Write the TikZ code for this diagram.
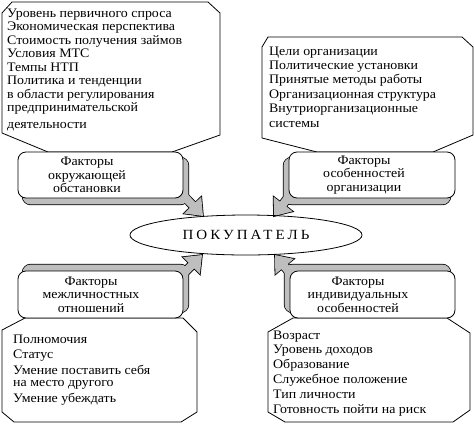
\documentclass[tikz,border=0pt]{standalone}
\usepackage{fontspec}
\setmainfont[FakeStretch=1.07]{Liberation Serif}
\usetikzlibrary{calc,shapes.geometric}
\definecolor{shade}{RGB}{190,190,190}
\pgfdeclarelayer{back}
\pgfdeclarelayer{mid}
\pgfsetlayers{back,mid,main}
\newcommand\drawarrow[4]{\path[#1] ($(#2)!4pt!90:(#4)$) -- ($(#3)!4pt!90:(#4)$) -- ($(#3)!12pt!90:(#4)$) -- (#4) -- ($(#3)!12pt!-90:(#4)$) -- ($(#3)!4pt!-90:(#4)$) -- ($(#2)!4pt!-90:(#4)$) -- cycle;}
\tikzset{
  callout/.style={draw=black, fill=white, line width=0.8pt, line join=miter},
  calltext/.style={anchor=north west, inner sep=0pt, align=left},
  factorbox/.style={draw=black, fill=white, line width=0.8pt, rounded corners=8pt, inner sep=0pt},
  factortext/.style={align=center, inner sep=0pt, font=\fontsize{13}{13.5}\selectfont},
  shadowline/.style={draw=black, line width=1.6pt, rounded corners=8pt},
  shadowfill/.style={fill=shade, rounded corners=8pt},
}
\begin{document}
\begin{tikzpicture}[x=1pt,y=-1pt]
\useasboundingbox (0,0) rectangle (474,424);
% central ellipse
\node[draw, ellipse, line width=0.8pt, minimum width=232pt, minimum height=40pt, inner sep=0pt,
  font=\fontsize{14}{16}\selectfont\addfontfeature{LetterSpace=22}] (buyer) at (246,235) {ПОКУПАТЕЛЬ};
% factor boxes
\node[factorbox, minimum width=165pt, minimum height=46pt] (f1) at (100.5,175) {};
\node[factorbox, minimum width=166pt, minimum height=46pt] (f2) at (372,175) {};
\node[factorbox, minimum width=165pt, minimum height=47pt] (f3) at (100.5,294.5) {};
\node[factorbox, minimum width=165pt, minimum height=47pt] (f4) at (372.5,294.5) {};
\node[factortext] (f1t) at (87,175) {Факторы\\окружающей\\обстановки};
\node[factortext] (f2t) at (364,175) {Факторы\\особенностей\\организации};
\node[factortext] (f3t) at (91,294.5) {Факторы\\межличностных\\отношений};
\node[factortext] (f4t) at (358,294.5) {Факторы\\индивидуальных\\особенностей};
% arrow geometry
\coordinate (s1) at ($(f1.south east)+(-5,-8)$); \coordinate (t1) at (203,216);
\coordinate (s2) at ($(f2.south west)+(5,-8)$);  \coordinate (t2) at (274,216);
\coordinate (s3) at ($(f3.north east)+(-5,8)$);  \coordinate (t3) at (202,255);
\coordinate (s4) at ($(f4.north west)+(5,8)$);   \coordinate (t4) at (275,255);
\coordinate (b1) at ($(t1)!15pt!(s1)$);
\coordinate (b2) at ($(t2)!15pt!(s2)$);
\coordinate (b3) at ($(t3)!15pt!(s3)$);
\coordinate (b4) at ($(t4)!15pt!(s4)$);
\begin{pgfonlayer}{mid}
  \drawarrow{draw=black, line width=1.6pt}{s1}{b1}{t1}
  \drawarrow{draw=black, line width=1.6pt}{s2}{b2}{t2}
  \drawarrow{draw=black, line width=1.6pt}{s3}{b3}{t3}
  \drawarrow{draw=black, line width=1.6pt}{s4}{b4}{t4}
  \path[shadowline] ([shift={(5,6)}]f1.north west) rectangle ([shift={(5,6)}]f1.south east);
  \path[shadowline] ([shift={(-5,6)}]f2.north west) rectangle ([shift={(-5,6)}]f2.south east);
  \path[shadowline] ([shift={(5,-6)}]f3.north west) rectangle ([shift={(5,-6)}]f3.south east);
  \path[shadowline] ([shift={(-5,-6)}]f4.north west) rectangle ([shift={(-5,-6)}]f4.south east);
  \drawarrow{fill=shade}{s1}{b1}{t1}
  \drawarrow{fill=shade}{s2}{b2}{t2}
  \drawarrow{fill=shade}{s3}{b3}{t3}
  \drawarrow{fill=shade}{s4}{b4}{t4}
  \path[shadowfill] ([shift={(5,6)}]f1.north west) rectangle ([shift={(5,6)}]f1.south east);
  \path[shadowfill] ([shift={(-5,6)}]f2.north west) rectangle ([shift={(-5,6)}]f2.south east);
  \path[shadowfill] ([shift={(5,-6)}]f3.north west) rectangle ([shift={(5,-6)}]f3.south east);
  \path[shadowfill] ([shift={(-5,-6)}]f4.north west) rectangle ([shift={(-5,-6)}]f4.south east);
\end{pgfonlayer}
% callouts
\begin{pgfonlayer}{back}
  \path[callout] (2,13) -- (12,2) -- (208,2) -- (220,13) -- (220,135) -- (172,152) -- (48,152) -- (2,133) -- cycle;
  \path[callout] (262,47) -- (268,37) -- (462,37) -- (473,47) -- (473,135) -- (433,152) -- (317,152) -- (262,138) -- cycle;
  \path[callout] (25,318) -- (183,318) -- (197,332) -- (197,412) -- (181,422) -- (14,422) -- (2,412) -- (2,330) -- cycle;
  \path[callout] (293,318) -- (447,318) -- (470,333) -- (470,410) -- (453,422) -- (285,422) -- (268,412) -- (268,332) -- cycle;
\end{pgfonlayer}
\node[calltext, font=\fontsize{13}{13.5}\selectfont] (c1) at (7,7.55) {\strut Уровень первичного спроса\\Экономическая перспектива\\Стоимость получения займов\\Условия МТС\\Темпы НТП\\Политика и тенденции\\в области регулирования\\предпринимательской\\[3.5pt]деятельности};
\node[calltext, font=\fontsize{13}{14.4}\selectfont] (c2) at (269,44.9) {\strut Цели организации\\Политические установки\\Принятые методы работы\\Организационная структура\\Внутриорганизационные\\системы};
\node[calltext, font=\fontsize{13}{15.5}\selectfont] (c3) at (13,332.15) {\strut Полномочия\\Статус\\Умение поставить себя\\[-3pt]на место другого\\Умение убеждать};
\node[calltext, font=\fontsize{13}{14.8}\selectfont] (c4) at (273,328.6) {\strut Возраст\\Уровень доходов\\Образование\\Служебное положение\\Тип личности\\Готовность пойти на риск};
\end{tikzpicture}
\end{document}
